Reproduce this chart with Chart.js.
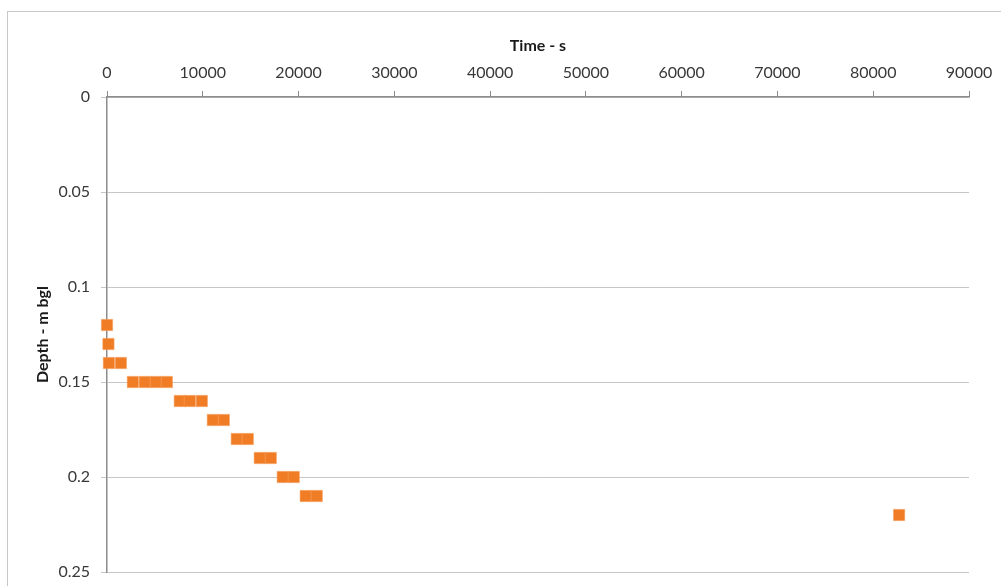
<!DOCTYPE html>
<html>
<head>
<meta charset="utf-8">
<script src="https://cdn.jsdelivr.net/npm/chart.js@4/dist/chart.umd.min.js"></script>
<style>
  html, body { margin: 0; padding: 0; background: #ffffff; }
  #wrap { width: 1001px; height: 586px; position: relative; }
</style>
</head>
<body>
<div id="wrap"><canvas id="c" width="1001" height="586"></canvas></div>
<script>
// Elapsed time since start (s) and measured depth below ground level (m)
const timeSeconds = [
  0, 150, 200, 1450,
  2700, 3950, 5100, 6250,
  7600, 8650, 9900,
  11050, 12200,
  13550, 14700,
  15950, 17100,
  18350, 19500,
  20750, 21900,
  82700
];
const depthM = [
  0.12, 0.13, 0.14, 0.14,
  0.15, 0.15, 0.15, 0.15,
  0.16, 0.16, 0.16,
  0.17, 0.17,
  0.18, 0.18,
  0.19, 0.19,
  0.20, 0.20,
  0.21, 0.21,
  0.22
];
const timeTicks = [0, 10000, 20000, 30000, 40000, 50000, 60000, 70000, 80000, 90000];
const depthTicks = [0, 0.05, 0.1, 0.15, 0.2, 0.25];

const points = timeSeconds.map((t, i) => ({ x: t, y: depthM[i] }));
const FONT = "Lato, 'Open Sans', 'Liberation Sans', sans-serif";

// Thin frame around the whole chart
const framePlugin = {
  id: 'frame',
  beforeDraw(chart) {
    const ctx = chart.ctx;
    ctx.save();
    ctx.strokeStyle = '#c8c8c8';
    ctx.lineWidth = 1;
    ctx.strokeRect(7.5, 11.5, 1010, 600);
    ctx.restore();
  }
};

new Chart(document.getElementById('c'), {
  type: 'scatter',
  data: {
    datasets: [{
      data: points,
      pointStyle: 'rect',
      pointRadius: 8,
      pointHoverRadius: 8,
      backgroundColor: '#f07d26',
      borderColor: '#f7a060',
      borderWidth: 0.5,
      clip: false
    }]
  },
  plugins: [framePlugin],
  options: {
    responsive: false,
    animation: false,
    events: [],
    layout: { padding: { left: 0, top: 0, right: 32, bottom: 14 } },
    plugins: { legend: { display: false }, tooltip: { enabled: false } },
    scales: {
      x: {
        type: 'linear',
        position: 'top',
        min: 0,
        max: 90000,
        afterBuildTicks(scale) { scale.ticks = timeTicks.map(v => ({ value: v })); },
        afterFit(scale) {
          scale.height = 97;
          scale.paddingLeft = 0;
          scale.paddingRight = 0;
        },
        ticks: {
          color: '#383838',
          font: { family: FONT, size: 16 },
          padding: 9,
          maxRotation: 0,
          callback: v => String(v)
        },
        grid: {
          display: true,
          drawOnChartArea: false,
          drawTicks: true,
          tickLength: 6,
          color: '#8c8c8c'
        },
        border: { display: true, color: '#8c8c8c', width: 1.5 },
        title: {
          display: true,
          text: 'Time - s',
          color: '#1a1a1a',
          font: { family: FONT, size: 16, weight: 'bold' },
          padding: { top: 36, bottom: 0 }
        }
      },
      y: {
        type: 'linear',
        position: 'left',
        reverse: true,
        min: 0,
        max: 0.25,
        afterBuildTicks(scale) { scale.ticks = depthTicks.map(v => ({ value: v })); },
        afterFit(scale) {
          scale.width = 107;
          scale.paddingTop = 0;
          scale.paddingBottom = 0;
        },
        ticks: {
          color: '#383838',
          font: { family: FONT, size: 16 },
          padding: 11,
          callback: v => String(v)
        },
        grid: {
          display: true,
          drawOnChartArea: true,
          drawTicks: true,
          tickLength: 6,
          color: '#c6c6c6'
        },
        border: { display: true, color: '#8c8c8c', width: 1.5 },
        title: {
          display: true,
          text: 'Depth - m bgl',
          color: '#1a1a1a',
          font: { family: FONT, size: 16, weight: 'bold' },
          padding: { top: 33, bottom: 0 }
        }
      }
    }
  }
});
</script>
</body>
</html>
